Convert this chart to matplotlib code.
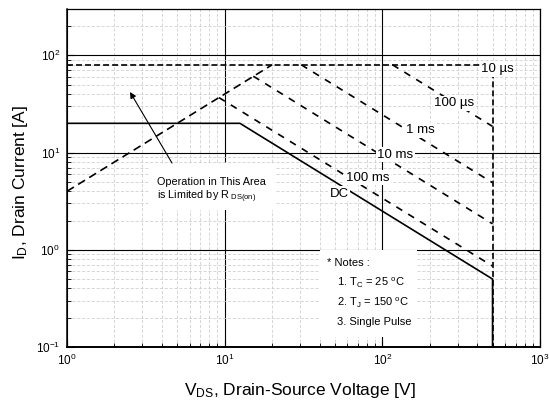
import matplotlib
matplotlib.use("Agg")
import matplotlib.pyplot as plt
from matplotlib.ticker import LogLocator, NullFormatter, LogFormatterSciNotation
from matplotlib.patches import Rectangle

plt.rcParams['font.family'] = ['Liberation Sans', 'DejaVu Sans']
plt.rcParams['mathtext.fontset'] = 'custom'
plt.rcParams['mathtext.rm'] = 'Liberation Sans'
plt.rcParams['mathtext.it'] = 'Liberation Sans:italic'
plt.rcParams['mathtext.default'] = 'regular'
plt.rcParams['lines.scale_dashes'] = False

# ---- data ----
vds_dc = [1, 12.5, 500, 500]
id_dc = [20, 20, 0.5, 0.1]
vds_rds = [1, 20]
id_rds = [4, 80]
vds_10us = [1, 500, 500]
id_10us = [80, 80, 0.1]
vds_100us = [116, 500]
id_100us = [80, 18.6]
vds_1ms = [30.6, 500]
id_1ms = [80, 4.9]
vds_10ms = [15.2, 500]
id_10ms = [61, 1.85]
vds_100ms = [9.2, 500]
id_100ms = [36.8, 0.68]

curve_labels = ['10 µs', '100 µs', '1 ms', '10 ms', '100 ms', 'DC']
label_vds = [423, 213, 142, 93, 59.2, 46.2]
label_id = [71.8, 32, 16.9, 9.5, 5.52, 3.78]

W, H = 549, 408
L, R, T, B = 67, 540, 9, 347
fig = plt.figure(figsize=(W / 100, H / 100), dpi=100)
ax = fig.add_axes([L / W, (H - B) / H, (R - L) / W, (B - T) / H])

def afx(px):
    return (px - L) / (R - L)

def afy(py):
    return (B - py) / (B - T)

ax.set_xscale('log')
ax.set_yscale('log')
ax.set_xlim(1, 1000)
ax.set_ylim(0.1, 300)

for a in (ax.xaxis, ax.yaxis):
    a.set_major_locator(LogLocator(base=10, numticks=10))
    a.set_minor_locator(LogLocator(base=10, subs=range(2, 10), numticks=20))
    a.set_major_formatter(LogFormatterSciNotation())
    a.set_minor_formatter(NullFormatter())

ax.set_axisbelow(True)
ax.grid(which='major', color='black', lw=0.8, ls='-')
ax.grid(which='minor', color='#c6c6c6', lw=0.5, ls=(0, (2.2, 1.3)))

ax.tick_params(which='both', direction='in', top=False, right=False, labelsize=8.5, color='black')
ax.tick_params(which='major', length=5, width=0.8)
ax.tick_params(which='minor', length=3, width=0.6)
ax.tick_params(axis='x', pad=4)
ax.tick_params(axis='y', pad=5)
for s in ax.spines.values():
    s.set_linewidth(0.9)
ax.spines['bottom'].set_linewidth(1.4)
ax.spines['left'].set_linewidth(1.1)

# white boxes hiding the grid
ax.add_patch(Rectangle((afx(150), afy(210)), afx(275) - afx(150), afy(163) - afy(210),
                       transform=ax.transAxes, fc='white', ec='none', zorder=1))
ax.add_patch(Rectangle((afx(320), afy(337)), afx(417) - afx(320), afy(250) - afy(337),
                       transform=ax.transAxes, fc='white', ec='none', zorder=1))

lw_d = 1.2
ax.plot(vds_dc, id_dc, color='black', lw=1.2, ls='-', zorder=3)
ax.plot(vds_rds, id_rds, color='black', lw=lw_d, ls=(0, (5.8, 3.6)), zorder=3)
ax.plot(vds_10us, id_10us, color='black', lw=lw_d, ls=(0, (4.3, 2.2)), zorder=3)
for v, i in ((vds_100us, id_100us), (vds_1ms, id_1ms), (vds_10ms, id_10ms), (vds_100ms, id_100ms)):
    ax.plot(v, i, color='black', lw=lw_d, ls=(0, (5, 5)), zorder=3)

for txt, v, i in zip(curve_labels, label_vds, label_id):
    ax.text(v, i, txt, ha='left', va='center', fontsize=9.5, zorder=5,
            bbox=dict(boxstyle='square,pad=0.1', fc='white', ec='none'))

# annotation: R_DS(on) region
ax.text(afx(157), afy(182), 'Operation in This Area', transform=ax.transAxes,
        ha='left', va='center', fontsize=7.8, zorder=5)
ax.text(afx(157), afy(197), r'is Limited by R$_{\ \mathregular{DS(on)}}$', transform=ax.transAxes,
        ha='left', va='center', fontsize=7.8, zorder=5)
ax.annotate('', xy=(afx(130), afy(92)), xytext=(afx(172), afy(163)),
            xycoords='axes fraction', textcoords='axes fraction',
            arrowprops=dict(arrowstyle='-|>', color='black', lw=0.8, mutation_scale=9,
                            shrinkA=0, shrinkB=0), zorder=5)

# notes
ax.text(afx(327), afy(263), '* Notes :', transform=ax.transAxes, ha='left', va='center', fontsize=8, zorder=5)
ax.text(afx(337), afy(283), r'1. T$_{C}$ = 25 $^{o}$C', transform=ax.transAxes, ha='left', va='center', fontsize=8, zorder=5)
ax.text(afx(337), afy(303), r'2. T$_{J}$ = 150 $^{o}$C', transform=ax.transAxes, ha='left', va='center', fontsize=8, zorder=5)
ax.text(afx(337), afy(322), '3. Single Pulse', transform=ax.transAxes, ha='left', va='center', fontsize=8, zorder=5)

fig.text(20 / W, 1 - 182 / H, r'I$_{D}$, Drain Current [A]', rotation=90, ha='center', va='center', fontsize=12.5)
fig.text(300 / W, 1 - 390 / H, r'V$_{DS}$, Drain-Source Voltage [V]', ha='center', va='center', fontsize=12.5)

fig.savefig('out.png', dpi=100, facecolor='white')
